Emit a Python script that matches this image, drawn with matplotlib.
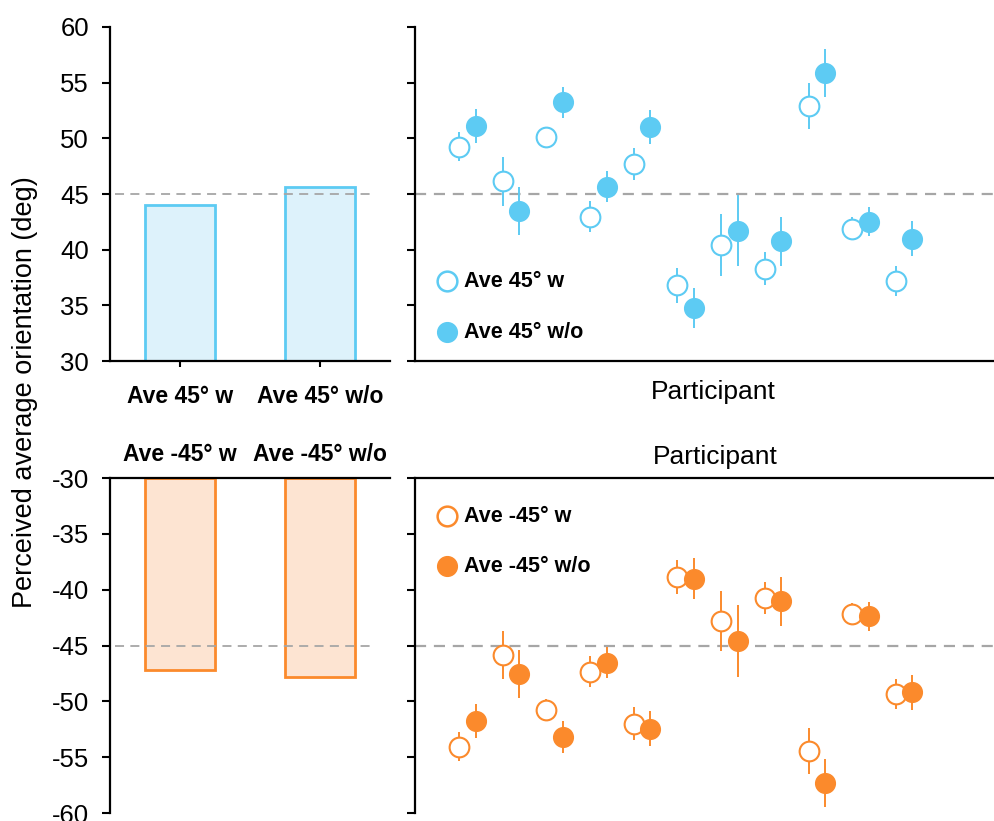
import numpy as np
import matplotlib
matplotlib.use("Agg")
import matplotlib.pyplot as plt

plt.rcParams["font.family"] = ["Liberation Sans", "DejaVu Sans"]
plt.rcParams["axes.unicode_minus"] = False

# ---- data ----
pos_categories = ["Ave 45° w", "Ave 45° w/o"]
neg_categories = ["Ave -45° w", "Ave -45° w/o"]
pos_bar_means = [44.0, 45.6]
neg_bar_means = [-47.2, -47.8]

participants = np.arange(1, 12)
pos_w = [49.25, 46.15, 50.1, 42.95, 47.7, 36.8, 40.4, 38.3, 52.9, 41.9, 37.2]
pos_w_err = [1.3, 2.2, 0.9, 1.4, 1.45, 1.55, 2.8, 1.5, 2.1, 1.0, 1.35]
pos_wo = [51.1, 43.5, 53.25, 45.65, 51.0, 34.8, 41.7, 40.75, 55.9, 42.5, 41.0]
pos_wo_err = [1.55, 2.15, 1.4, 1.4, 1.55, 1.8, 3.2, 2.2, 2.15, 1.3, 1.6]

neg_w = [-54.05, -45.85, -50.75, -47.35, -52.0, -38.85, -42.8, -40.75, -54.45, -42.2, -49.35]
neg_w_err = [1.3, 2.15, 0.95, 1.4, 1.45, 1.55, 2.7, 1.45, 2.1, 1.0, 1.35]
neg_wo = [-51.75, -47.55, -53.2, -46.55, -52.45, -39.0, -44.6, -41.05, -57.3, -42.4, -49.2]
neg_wo_err = [1.55, 2.15, 1.4, 1.4, 1.55, 1.8, 3.2, 2.2, 2.15, 1.3, 1.6]

pos_ticks = [30, 35, 40, 45, 50, 55, 60]
neg_ticks = [-60, -55, -50, -45, -40, -35, -30]
reference_pos = 45
reference_neg = -45

# ---- style ----
BLUE = "#5DCBF3"
BLUE_FILL = "#DDF2FB"
ORANGE = "#FB8A2C"
ORANGE_FILL = "#FDE4D2"
DASH = "#A6A6A6"
W, H = 995, 821

fig = plt.figure(figsize=(W / 100, H / 100), dpi=100)


def ax_at(x0, y0, x1, y1):
    return fig.add_axes([x0 / W, 1 - y1 / H, (x1 - x0) / W, (y1 - y0) / H])


ax_tl = ax_at(110, 27, 390, 361)
ax_tr = ax_at(415, 27, 995, 361)
ax_bl = ax_at(110, 478, 390, 813)
ax_br = ax_at(415, 478, 995, 813)

for ax in (ax_tl, ax_tr, ax_bl, ax_br):
    for s in ax.spines.values():
        s.set_linewidth(1.6)
    ax.tick_params(axis="y", length=6, width=1.5, direction="out", pad=9,
                   labelsize=18.5)

# top-left bars
xb = np.arange(len(pos_categories))
ax_tl.bar(xb, pos_bar_means, width=0.5, bottom=0, color=BLUE_FILL,
          edgecolor=BLUE, linewidth=2, zorder=2)
ax_tl.set_xlim(-0.5, 1.5)
ax_tl.set_ylim(30, 60)
ax_tl.set_yticks(pos_ticks)
ax_tl.set_xticks(xb)
ax_tl.set_xticklabels(pos_categories, fontsize=16.5, fontweight="bold")
ax_tl.tick_params(axis="x", length=4, width=1.5, direction="out", pad=13)
ax_tl.plot([-0.464, 1.379], [reference_pos] * 2, ls=(0, (5, 3.5)),
           color=DASH, lw=1.3, zorder=3)
ax_tl.spines["top"].set_visible(False)
ax_tl.spines["right"].set_visible(False)

# bottom-left bars hanging from the top edge at -30
top_neg = neg_ticks[-1]
ax_bl.bar(xb, [m - top_neg for m in neg_bar_means], width=0.5,
          bottom=top_neg, color=ORANGE_FILL, edgecolor=ORANGE,
          linewidth=2, zorder=2)
ax_bl.set_xlim(-0.5, 1.5)
ax_bl.set_ylim(-60, -30)
ax_bl.set_yticks(neg_ticks)
ax_bl.set_xticks(xb)
ax_bl.xaxis.tick_top()
ax_bl.set_xticklabels(neg_categories, fontsize=16.5, fontweight="bold")
ax_bl.tick_params(axis="x", length=4, width=1.5, direction="in", pad=9)
ax_bl.plot([-0.464, 1.379], [reference_neg] * 2, ls=(0, (5, 3.5)),
           color=DASH, lw=1.3, zorder=3)
ax_bl.spines["bottom"].set_visible(False)
ax_bl.spines["right"].set_visible(False)

# participant scatter panels
off = 0.19
MS = 14.2


def participant_panel(ax, w, w_err, wo, wo_err, color, ylim, ticks, ref,
                      labels, legend_yf):
    ax.errorbar(participants - off, w, yerr=w_err, fmt="o", ms=MS,
                mfc="white", mec=color, mew=1.5, ecolor=color, elinewidth=1.4,
                capsize=0, zorder=3)
    ax.errorbar(participants + off, wo, yerr=wo_err, fmt="o", ms=MS,
                mfc=color, mec=color, mew=1.0, ecolor=color, elinewidth=1.4,
                capsize=0, zorder=3)
    ax.axhline(ref, ls=(0, (5, 3.5)), color=DASH, lw=1.6, zorder=1)
    ax.set_xlim(-0.2, 13.08)
    ax.set_ylim(*ylim)
    ax.set_yticks(ticks)
    ax.set_yticklabels([])
    ax.set_xticks([])
    ax.spines["right"].set_visible(False)
    # legend entries
    lx = (447 - 415) / (995 - 415)
    tx = (464 - 415) / (995 - 415)
    for yf, lab, filled in zip(legend_yf, labels, (False, True)):
        ax.plot([lx], [yf], "o", ms=MS, transform=ax.transAxes,
                mfc=color if filled else "white", mec=color,
                mew=1.0 if filled else 1.8, clip_on=False, zorder=4)
        ax.text(tx, yf, lab, transform=ax.transAxes, fontsize=15.5,
                fontweight="bold", va="center", ha="left")


participant_panel(ax_tr, pos_w, pos_w_err, pos_wo, pos_wo_err, BLUE,
                  (30, 60), pos_ticks, reference_pos, pos_categories,
                  [1 - (281 - 27) / 334, 1 - (332 - 27) / 334])
ax_tr.spines["top"].set_visible(False)

participant_panel(ax_br, neg_w, neg_w_err, neg_wo, neg_wo_err, ORANGE,
                  (-60, -30), neg_ticks, reference_neg, neg_categories,
                  [1 - (516 - 478) / 335, 1 - (566 - 478) / 335])
ax_br.spines["bottom"].set_visible(False)

fig.text(713 / W, 1 - 392 / H, "Participant", fontsize=19, ha="center",
         va="center")
fig.text(715 / W, 1 - 457 / H, "Participant", fontsize=19, ha="center",
         va="center")
fig.text(25 / W, 1 - 392 / H, "Perceived average orientation (deg)",
         fontsize=19.5, rotation=90, ha="center", va="center")

fig.savefig("out.png", dpi=100)
